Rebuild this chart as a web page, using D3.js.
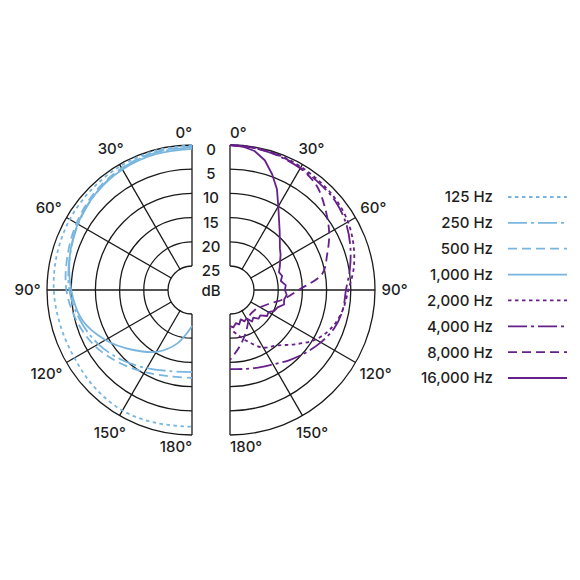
<!DOCTYPE html>
<html><head><meta charset="utf-8">
<script src="https://cdn.jsdelivr.net/npm/d3@7"></script>
<style>
body{margin:0;background:#fff}
svg{display:block}
text{font-family:Inter,"Noto Sans",sans-serif;fill:#1e1e1e;font-weight:500}
</style>
</head><body>
<svg id="chart" width="580" height="580"></svg>
<script>
// ---------- data ----------
const anglesLeft  = [0,15,30,45,60,75,90,105,120,135,150,165,180];
const anglesRight = [0,10,20,30,40,50,60,70,80,90,100,110,120,130,140,150,160,170,180];
const angles16k   = [0,5,10,15,20,25,30,35,40,45,50,55,60,65,70,75,80,85,90,95,100,105,110,115,120,125,130,135,140,145,150,155,160,165,170,175,180];

const db125  = [0,0.2,0.4,0.6,0.8,1.1,1.4,1.8,1.9,1.5,1.2,1.5,1.7];
const db250  = [0.5,0.6,1.0,1.8,2.8,3.8,4.6,6.0,7.6,9.5,11.3,12.6,13.0];
const db500  = [0.3,0.5,0.9,1.5,2.4,3.3,4.0,5.3,6.8,8.7,10.4,11.5,11.8];
const db1000 = [0.8,0.9,1.2,1.8,2.7,3.8,5.0,6.4,9.3,12.5,15.2,18.6,22.5];

const db2000 = [0,0.1,0.3,0.6,0.9,1.2,1.8,2.8,4.0,5.5,6.3,7.5,9.5,12.5,15.0,16.2,18.5,20.5,22.0];
const db4000 = [0,0.2,0.5,0.9,1.2,1.5,2.3,3.5,4.8,6.0,6.3,7.0,8.3,9.7,11.0,12.2,12.9,13.4,13.6];
const db8000 = [0,0.2,0.4,0.9,2.0,4.2,6.3,8.6,10.6,15.8,18.8,21.5,22.8,23.4,23.4,22.4,20.5,18.2,15.5];
const db16000 = [0,0.2,0.8,2.2,4.5,7.0,10.0,12.3,14.0,15.4,16.5,17.2,18.0,18.6,19.2,18.8,19.3,18.4,18.6,18.2,18.6,18.4,19.5,19.8,20.8,20.6,21.8,21.6,22.5,22.0,23.2,22.8,23.5,22.6,23.0,22.2,22.5];

const legendLabels = ["125 Hz","250 Hz","500 Hz","1,000 Hz","2,000 Hz","4,000 Hz","8,000 Hz","16,000 Hz"];
const ringTicks  = [0,5,10,15,20,25];
const angleTicks = [0,30,60,90,120,150,180];

// ---------- styles ----------
const BLUE = "#79b6df", PURPLE = "#66208a";
const DOT = "3.5,3.5", DASHDOT = "19,4,3,4", DASH = "9,5";
const series = [
  {name:legendLabels[0], side:-1, angles:anglesLeft,  values:db125,  color:BLUE,   dash:DOT},
  {name:legendLabels[1], side:-1, angles:anglesLeft,  values:db250,  color:BLUE,   dash:DASHDOT},
  {name:legendLabels[2], side:-1, angles:anglesLeft,  values:db500,  color:BLUE,   dash:DASH},
  {name:legendLabels[3], side:-1, angles:anglesLeft,  values:db1000, color:BLUE,   dash:null},
  {name:legendLabels[4], side: 1, angles:anglesRight, values:db2000, color:PURPLE, dash:DOT},
  {name:legendLabels[5], side: 1, angles:anglesRight, values:db4000, color:PURPLE, dash:DASHDOT},
  {name:legendLabels[6], side: 1, angles:anglesRight, values:db8000, color:PURPLE, dash:DASH},
  {name:legendLabels[7], side: 1, angles:angles16k,   values:db16000,color:PURPLE, dash:null, linear:true}
];

// ---------- layout ----------
const svg = d3.select("#chart");
svg.append("rect").attr("width",580).attr("height",580).attr("fill","#fff");
const cy = 290;
const centers = {"-1":192, "1":230};
const R = 145, Rin = 24;
const r = d3.scaleLinear().domain([0,25]).range([R,Rin]);
const rad = a => a*Math.PI/180;
const FS = 15;

[-1,1].forEach(s=>{
  const g = svg.append("g").attr("transform",`translate(${centers[s]},${cy})`);
  const grid = g.append("g").attr("fill","none").attr("stroke","#1a1a1a").attr("stroke-width",1.3);
  ringTicks.forEach(t=>{
    const p = d3.path(); const rr = r(t);
    p.moveTo(0,-rr); p.arc(0,0,rr,-Math.PI/2,Math.PI/2,s<0);
    grid.append("path").attr("d",p.toString());
  });
  grid.append("line").attr("x1",0).attr("y1",-R).attr("x2",0).attr("y2",-Rin);
  grid.append("line").attr("x1",0).attr("y1",Rin).attr("x2",0).attr("y2",R);
  angleTicks.filter(a=>a>0&&a<180).forEach(a=>{
    grid.append("line")
      .attr("x1",s*Rin*Math.sin(rad(a))).attr("y1",-Rin*Math.cos(rad(a)))
      .attr("x2",s*R*Math.sin(rad(a))).attr("y2",-R*Math.cos(rad(a)));
  });
  angleTicks.forEach(a=>{
    const t = g.append("text").attr("font-size",FS).text(a+"°");
    const w = t.node().getComputedTextLength();
    const hw = w/2, hh = 5.5, pad = 6.5;
    const dist = R + pad + hw*Math.abs(Math.sin(rad(a))) + hh*Math.abs(Math.cos(rad(a)));
    const y = -dist*Math.cos(rad(a));
    if (a===0 || a===180){
      t.attr("x",0).attr("y",y).attr("dy","0.36em").attr("text-anchor", s<0?"end":"start");
    } else {
      t.attr("x",s*dist*Math.sin(rad(a))).attr("y",y).attr("dy","0.36em").attr("text-anchor","middle");
    }
  });
});

const midX = (centers["-1"]+centers["1"])/2;
ringTicks.forEach(t=>{
  svg.append("text").attr("x",midX).attr("y",cy - r(t) + 4.5).attr("dy","0.36em")
    .attr("text-anchor","middle").attr("font-size",FS).text(t);
});
svg.append("text").attr("x",midX).attr("y",cy+1).attr("dy","0.36em")
  .attr("text-anchor","middle").attr("font-size",FS).text("dB");

series.forEach(sr=>{
  const pts = sr.angles.map((a,i)=>({a, v:Math.min(25, sr.values[i])}));
  const line = d3.lineRadial()
    .angle(d=>sr.side*rad(d.a))
    .radius(d=>r(d.v))
    .curve(sr.linear ? d3.curveLinear : d3.curveCatmullRom.alpha(0.5));
  svg.append("path")
    .attr("transform",`translate(${centers[sr.side]},${cy})`)
    .attr("d",line(pts))
    .attr("fill","none").attr("stroke",sr.color).attr("stroke-width",1.8)
    .attr("stroke-dasharray",sr.dash)
    .attr("stroke-linejoin","round");
});

const ly = d3.scalePoint().domain(legendLabels).range([197,378]);
const lg = svg.append("g");
series.forEach(sr=>{
  const y = ly(sr.name);
  lg.append("text").attr("x",493).attr("y",y).attr("dy","0.36em")
    .attr("text-anchor","end").attr("font-size",FS).text(sr.name);
  lg.append("line").attr("x1",508).attr("x2",567).attr("y1",y).attr("y2",y)
    .attr("stroke",sr.color).attr("stroke-width",1.8).attr("stroke-dasharray",sr.dash);
});
</script>
</body></html>
